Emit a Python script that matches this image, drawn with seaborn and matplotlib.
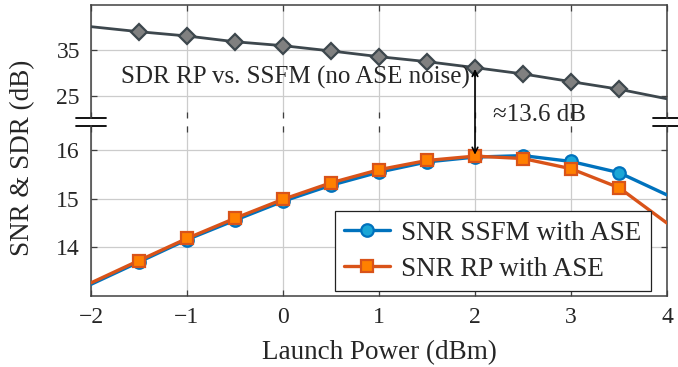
import numpy as np
import pandas as pd
import matplotlib
matplotlib.use("Agg")
import matplotlib.pyplot as plt
from matplotlib.patches import ConnectionPatch
from matplotlib.lines import Line2D
import seaborn as sns

# Launch power sweep (dBm)
power = [-2.0, -1.5, -1.0, -0.5, 0.0, 0.5, 1.0, 1.5, 2.0, 2.5, 3.0, 3.5, 4.0]

# SDR of the RP model against SSFM, no ASE noise (dB)
sdr_rp = [40.1, 39.0, 38.06, 36.8, 35.94, 34.78, 33.53, 32.44, 31.13, 29.75, 28.06, 26.4, 24.3]

# SNR with ASE noise (dB)
snr_ssfm = [13.24, 13.70, 14.16, 14.56, 14.95, 15.28, 15.55, 15.76, 15.86, 15.89, 15.77, 15.54, 15.08]
snr_rp = [13.27, 13.73, 14.185, 14.60, 14.99, 15.33, 15.60, 15.79, 15.88, 15.83, 15.62, 15.23, 14.50]

x_ticks = [-2, -1, 0, 1, 2, 3, 4]
upper_ticks = [25, 35]
lower_ticks = [14, 15, 16]

gap_label = "≈13.6 dB"
sdr_label = "SDR RP vs. SSFM (no ASE noise)"
legend_labels = ["SNR SSFM with ASE", "SNR RP with ASE"]

df = pd.DataFrame({"power": power, "sdr": sdr_rp, "ssfm": snr_ssfm, "rp": snr_rp})

sns.set_theme(style="ticks")
plt.rcParams["font.family"] = ["Liberation Serif", "DejaVu Serif"]
plt.rcParams["mathtext.fontset"] = "stix"
plt.rcParams["axes.unicode_minus"] = True

FS_TICK = 17
FS_LABEL = 19.5
FS_LEG = 19.5
FS_NOTE = 18
SPINE = "#404040"
GRID = "#cccccc"

fig = plt.figure(figsize=(6.78, 3.67), dpi=100)
ax_top = fig.add_axes([0.1342, 0.6785, 0.8496, 0.3079])
ax_bot = fig.add_axes([0.1342, 0.1935, 0.8496, 0.4632])

blue, blue_face = "#0072BD", "#1ba6d6"
orange, orange_face = "#D95319", "#FF8000"
gray_line, gray_face = "#3d474d", "#808080"
inner = slice(1, -1)

sns.lineplot(data=df, x="power", y="sdr", ax=ax_top, color=gray_line, lw=2.0,
             marker="D", ms=8.5, mfc=gray_face, mec=gray_line, mew=1.6,
             markevery=inner, zorder=3)
sns.lineplot(data=df, x="power", y="ssfm", ax=ax_bot, color=blue, lw=2.4,
             marker="o", ms=9, mfc=blue_face, mec=blue, mew=1.6,
             markevery=inner, zorder=3)
sns.lineplot(data=df, x="power", y="rp", ax=ax_bot, color=orange, lw=2.4,
             marker="s", ms=9, mfc=orange_face, mec=orange, mew=1.6,
             markevery=inner, zorder=4)

for ax in (ax_top, ax_bot):
    ax.set_xlim(-2, 4)
    ax.set_xticks(x_ticks)
    ax.grid(True, color=GRID, lw=0.9)
    ax.set_axisbelow(True)
    ax.set_xlabel("")
    ax.set_ylabel("")
    for s in ax.spines.values():
        s.set_color(SPINE)
        s.set_linewidth(1.1)
    ax.tick_params(direction="in", length=4, width=0.9, color=SPINE,
                   labelsize=FS_TICK, top=True, right=True, pad=8)

ax_top.set_ylim(20.1, 44.85)
ax_top.set_yticks(upper_ticks)
ax_top.tick_params(labelbottom=False)
ax_top.spines["bottom"].set_visible(False)

ax_bot.set_ylim(13.0, 16.5)
ax_bot.set_yticks(lower_ticks)
ax_bot.spines["top"].set_visible(False)
ax_bot.tick_params(axis="x", pad=8)
ax_bot.set_xticklabels([f"{t:d}".replace("-", "\u2212") for t in x_ticks])
ax_bot.set_xlabel("Launch Power (dBm)", fontsize=FS_LABEL, labelpad=9)

fig.text(23 / 678, 1 - 158 / 367, "SNR & SDR (dB)", rotation=90,
         ha="center", va="center", fontsize=FS_LABEL)

# axis-break marks on both sides
for ax, yy in ((ax_top, 0.0), (ax_bot, 1.0)):
    for x0, x1 in ((-0.026, 0.026), (0.976, 1.03)):
        ax.add_line(Line2D([x0, x1], [yy, yy], transform=ax.transAxes,
                           color="black", lw=1.3, clip_on=False))

ax_top.text(-1.69, 28.9, sdr_label, fontsize=FS_NOTE, ha="left", va="center")

# double arrow between SDR and SNR at 2 dBm
i2 = power.index(2.0)
arrow = ConnectionPatch(xyA=(2.0, sdr_rp[i2]), coordsA=ax_top.transData,
                        xyB=(2.0, snr_rp[i2]), coordsB=ax_bot.transData,
                        arrowstyle="<->", mutation_scale=10, lw=1.2,
                        color="black", shrinkA=1, shrinkB=1, zorder=6)
fig.add_artist(arrow)
ax_bot.text(2.19, 16.73, gap_label, fontsize=FS_NOTE, ha="left", va="center",
            clip_on=False)

handles = [
    Line2D([], [], color=blue, lw=2.4, marker="o", ms=9, mfc=blue_face, mec=blue, mew=1.6),
    Line2D([], [], color=orange, lw=2.4, marker="s", ms=9, mfc=orange_face, mec=orange, mew=1.6),
]
leg = ax_bot.legend(handles, legend_labels, loc="lower right",
                    bbox_to_anchor=(0.972, 0.029), borderaxespad=0,
                    fontsize=FS_LEG, frameon=True, fancybox=False,
                    handlelength=1.7, handletextpad=0.4, labelspacing=0.4,
                    borderpad=0.35)
leg.get_frame().set_edgecolor("#222222")
leg.get_frame().set_linewidth(0.9)
leg.get_frame().set_alpha(1)

fig.savefig("out.png", dpi=100)
